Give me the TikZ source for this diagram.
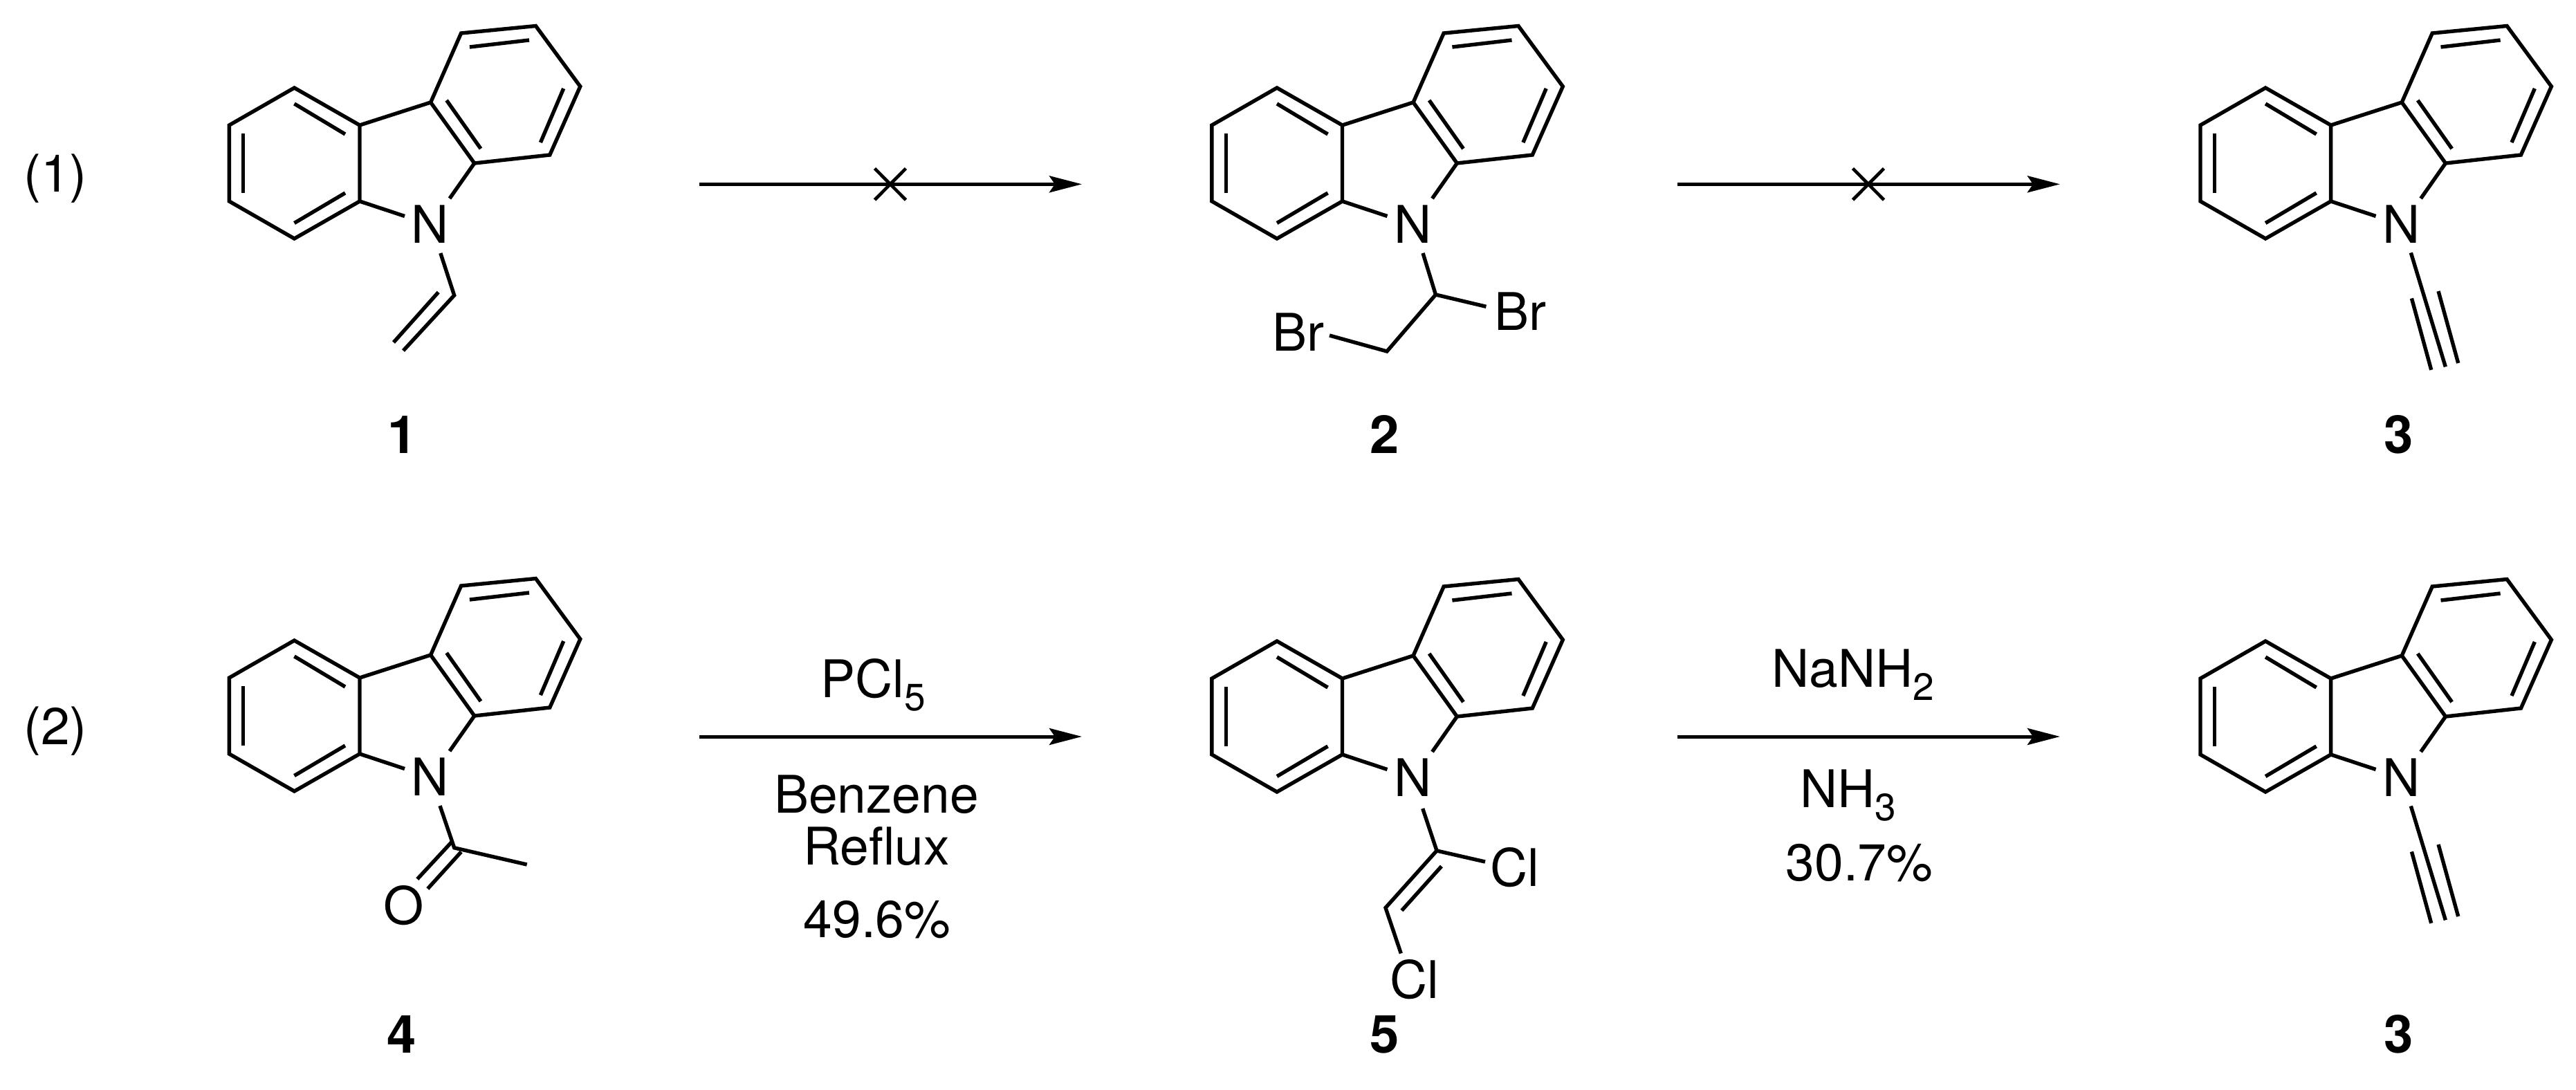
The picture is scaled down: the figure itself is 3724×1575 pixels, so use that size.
\documentclass[tikz,border=0pt]{standalone}
\usepackage{fontspec}
\setmainfont{TeX Gyre Heros}
\usetikzlibrary{arrows.meta}
\tikzset{
  bondline/.style={line width=5.4pt,line join=miter},
  rxn/.style={line width=5pt,-{Stealth[length=47pt,width=24pt,inset=8pt]}},
  crossline/.style={line width=4.7pt},
  txt/.style={font=\fontsize{75}{88}\selectfont,inner sep=0pt,anchor=base,align=center},
  cpd/.style={font=\fontsize{76}{88}\selectfont\bfseries,inner sep=0pt,anchor=base},
}
\newcommand{\subs}[1]{\raisebox{-19pt}{\fontsize{55}{60}\selectfont #1}}
\newcommand{\carbazole}[3]{%
 \begin{scope}[shift={(#2,#3)}]
  \coordinate (#1A) at (425.5,127);
  \coordinate (#1B) at (331.4,181);
  \coordinate (#1C) at (331.4,291);
  \coordinate (#1D) at (425.5,345);
  \coordinate (#1E) at (520,291);
  \coordinate (#1F) at (520,181);
  \coordinate (#1G) at (622.6,148);
  \coordinate (#1H) at (685.8,236);
  \coordinate (#1I) at (794.8,224);
  \coordinate (#1J) at (838.8,125);
  \coordinate (#1K) at (774.5,37.5);
  \coordinate (#1L) at (666.6,48);
  \node[txt] (#1N) at (622,351.5) {N};
  \coordinate (#1Na) at (585,312.5);
  \coordinate (#1Nb) at (650,287);
  \coordinate (#1a) at (425.5,150);
  \coordinate (#1b) at (499,194);
  \coordinate (#1c) at (351.7,193);
  \coordinate (#1d) at (351.7,278.6);
  \coordinate (#1e) at (425.5,322.5);
  \coordinate (#1f) at (499,279);
  \coordinate (#1g) at (645.6,145);
  \coordinate (#1h) at (695,215);
  \coordinate (#1i) at (781.4,206);
  \coordinate (#1j) at (814.7,128);
  \coordinate (#1k) at (678.9,68);
  \coordinate (#1l) at (765,58);
  \draw[bondline] (#1A)--(#1B)--(#1C)--(#1D)--(#1E)--(#1F)--cycle;
  \draw[bondline] (#1F)--(#1G)--(#1H)--(#1I)--(#1J)--(#1K)--(#1L)--(#1G);
  \draw[bondline] (#1E)--(#1Na);
  \draw[bondline] (#1H)--(#1Nb);
  \draw[bondline] (#1a)--(#1b);
  \draw[bondline] (#1c)--(#1d);
  \draw[bondline] (#1e)--(#1f);
  \draw[bondline] (#1g)--(#1h);
  \draw[bondline] (#1i)--(#1j);
  \draw[bondline] (#1k)--(#1l);
 \end{scope}}
\newcommand{\ethynyl}[3]{%
 \begin{scope}[shift={(#2,#3)}]
  \coordinate (#1p) at (3485.3,365.4);
  \coordinate (#1q) at (3535.3,530.3);
  \coordinate (#1r) at (3486.4,431.4);
  \coordinate (#1s) at (3514.7,534.8);
  \coordinate (#1t) at (3525,421);
  \coordinate (#1u) at (3553.7,525);
  \draw[bondline] (#1p)--(#1q);
  \draw[bondline] (#1r)--(#1s);
  \draw[bondline] (#1t)--(#1u);
 \end{scope}}
\begin{document}
\begin{tikzpicture}[x=1pt,y=-1pt]
\useasboundingbox (0,0) rectangle (3724,1575);
% scheme labels
\node[txt] (s1) at (80,277) {(1)};
\node[txt] (s2) at (80,1076) {(2)};
% molecule 1
\carbazole{ma}{0}{0}
\coordinate (av) at (656.7,427);
\coordinate (avs) at (636.8,366);
\coordinate (ave) at (583,507);
\coordinate (avi) at (633.7,422.5);
\coordinate (avj) at (569,495);
\draw[bondline] (avs)--(av)--(ave);
\draw[bondline] (avi)--(avj);
\node[cpd] (c1) at (582,655) {1};
% molecule 2
\carbazole{mb}{1420.5}{0}
\coordinate (bs) at (2057,366);
\coordinate (bc) at (2075.5,426);
\coordinate (bd) at (2005,508);
\coordinate (be) at (2148.4,443.3);
\coordinate (bf) at (1922,485);
\draw[bondline] (bs)--(bc)--(be);
\draw[bondline] (bc)--(bd)--(bf);
\node[txt] (br1) at (2198,477.5) {Br};
\node[txt] (br2) at (1877,507.5) {Br};
\node[cpd] (c2) at (2002,655) {2};
% molecule 3, upper
\carbazole{mc}{2849.6}{0}
\ethynyl{ea}{0}{0}
\node[cpd] (c3a) at (3468,655) {3};
% arrows row 1
\coordinate (r1a) at (1011,266.3);
\coordinate (r1b) at (1564,266.3);
\coordinate (r2a) at (2425,266.3);
\coordinate (r2b) at (2978,266.3);
\draw[rxn] (r1a)--(r1b);
\draw[rxn] (r2a)--(r2b);
\coordinate (x1a) at (1264.5,243.6);
\coordinate (x1b) at (1309.5,289);
\coordinate (x1c) at (1309.5,243.6);
\coordinate (x1d) at (1264.5,289);
\draw[crossline] (x1a)--(x1b);
\draw[crossline] (x1c)--(x1d);
\coordinate (x2a) at (2678.5,243.6);
\coordinate (x2b) at (2723.5,289);
\coordinate (x2c) at (2723.5,243.6);
\coordinate (x2d) at (2678.5,289);
\draw[crossline] (x2a)--(x2b);
\draw[crossline] (x2c)--(x2d);
% molecule 4
\carbazole{md}{0}{799}
\coordinate (ds) at (636,1165);
\coordinate (dc) at (656.7,1225.8);
\coordinate (dm) at (761.7,1250);
\coordinate (do) at (652.7,1217.7);
\coordinate (dp) at (603.3,1271);
\coordinate (dq) at (666.7,1231.7);
\coordinate (dr) at (618.3,1285);
\draw[bondline] (ds)--(dc)--(dm);
\draw[bondline] (do)--(dp);
\draw[bondline] (dq)--(dr);
\node[txt] (ox) at (583.3,1336) {O};
\node[cpd] (c4) at (581,1522) {4};
% molecule 5
\carbazole{me}{1420.5}{800}
\coordinate (es) at (2056.7,1169);
\coordinate (ec) at (2077,1230);
\coordinate (ed) at (2003,1312.5);
\coordinate (ee) at (2147,1246);
\coordinate (ef) at (2025.3,1378.5);
\coordinate (eg) at (2083.9,1252.5);
\coordinate (eh) at (2026.4,1316.5);
\draw[bondline] (es)--(ec)--(ee);
\draw[bondline] (ec)--(ed)--(ef);
\draw[bondline] (eg)--(eh);
\node[txt] (cl1) at (2190,1281) {Cl};
\node[txt] (cl2) at (2045,1443.5) {Cl};
\node[cpd] (c5) at (2002,1522) {5};
% molecule 3, lower
\carbazole{mf}{2849.6}{800}
\ethynyl{eb}{0}{800}
\node[cpd] (c3b) at (3468,1522) {3};
% arrows row 2
\coordinate (r3a) at (1011,1065);
\coordinate (r3b) at (1564,1065);
\coordinate (r4a) at (2425,1065);
\coordinate (r4b) at (2978,1065);
\draw[rxn] (r3a)--(r3b);
\draw[rxn] (r4a)--(r4b);
% conditions
\node[txt] (pcl) at (1262,1008) {PCl\subs{5}};
\node[txt] (ben) at (1267,1175) {Benzene};
\node[txt] (ref) at (1267,1250) {Reflux};
\node[txt] (y1) at (1268,1355) {49.6\%};
\node[txt] (nan) at (2679,993) {NaNH\subs{2}};
\node[txt] (nh3) at (2672,1167) {NH\subs{3}};
\node[txt] (y2) at (2688,1273) {30.7\%};
\end{tikzpicture}
\end{document}
